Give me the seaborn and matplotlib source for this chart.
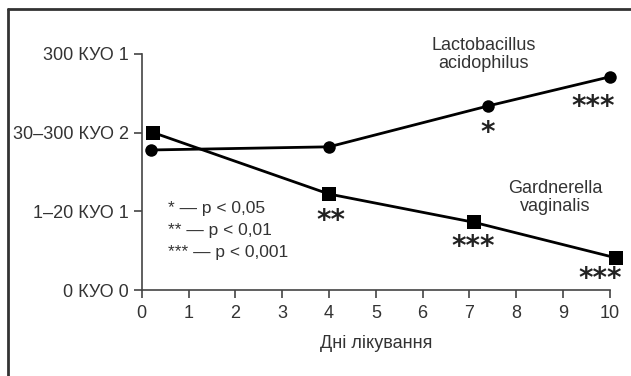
import matplotlib
matplotlib.use("Agg")
import matplotlib.pyplot as plt
from matplotlib.lines import Line2D
import seaborn as sns
import pandas as pd

# Data
lacto_days = [0.2, 4.0, 7.4, 10.0]
lacto_level = [1.78, 1.82, 2.34, 2.71]
gard_days = [0.25, 4.0, 7.1, 10.12]
gard_level = [2.0, 1.22, 0.86, 0.41]

ytick_pos = [0, 1, 2, 3]
ytick_labels = ["0 КУО 0", "1–20 КУО 1", "30–300 КУО 2", "300 КУО 1"]
xtick_pos = list(range(0, 11))

# significance marks: (text, x, y)
stars = [
    ("*", 7.38, 2.0),
    ("***", 9.65, 2.32),
    ("**", 4.05, 0.88),
    ("***", 7.07, 0.55),
    ("***", 9.8, 0.14),
]
legend_lines = ["* — p < 0,05", "** — p < 0,01", "*** — p < 0,001"]

lacto = pd.DataFrame({"day": lacto_days, "level": lacto_level})
gard = pd.DataFrame({"day": gard_days, "level": gard_level})

sns.set_style("ticks")
plt.rcParams["font.family"] = ["Liberation Sans", "DejaVu Sans"]
text_col = "#333333"

fig = plt.figure(figsize=(6.31, 3.76), dpi=100)
ax = fig.add_axes([0.2246, 0.2287, 0.742, 0.6277])

sns.lineplot(data=lacto, x="day", y="level", color="black", marker="o",
             markersize=9, linewidth=2, markeredgewidth=0, sort=False,
             ax=ax, clip_on=False)
sns.lineplot(data=gard, x="day", y="level", color="black", marker="s",
             markersize=10, linewidth=2, markeredgewidth=0, sort=False,
             ax=ax, clip_on=False)

ax.set_xlim(0, 10)
ax.set_ylim(0, 3)
ax.set_xticks(xtick_pos)
ax.set_yticks(ytick_pos)
ax.set_yticklabels(ytick_labels)
ax.tick_params(axis="both", labelsize=13, colors="#444444", labelcolor=text_col,
               length=6, width=1.2, pad=3)
ax.tick_params(axis="x", pad=5)
ax.set_xlabel("Дні лікування", fontsize=13, color=text_col, labelpad=9)
ax.set_ylabel("")
sns.despine(ax=ax)
for s in ("left", "bottom"):
    ax.spines[s].set_color("#444444")
    ax.spines[s].set_linewidth(1.2)

ax.text(7.3, 2.99, "Lactobacillus\nacidophilus", ha="center", va="center",
        fontsize=13, color=text_col, linespacing=1.1)
ax.text(8.83, 1.18, "Gardnerella\nvaginalis", ha="center", va="center",
        fontsize=13, color=text_col, linespacing=1.1)

for txt, x, y in stars:
    ax.text(x, y, txt, ha="center", va="center", fontsize=20,
            fontweight="bold", color="#222222", family="DejaVu Sans")

for i, line in enumerate(legend_lines):
    ax.text(0.56, 1.04 - i * 0.28, line, ha="left", va="center",
            fontsize=12.5, color=text_col)

# outer frame (top and left edges only)
fig.add_artist(Line2D([8 / 631, 8 / 631], [0, 1 - 9 / 376], transform=fig.transFigure,
                      color="#333333", linewidth=2))
fig.add_artist(Line2D([8 / 631, 1], [1 - 9 / 376, 1 - 9 / 376], transform=fig.transFigure,
                      color="#333333", linewidth=2))

fig.savefig("out.png", dpi=100)
